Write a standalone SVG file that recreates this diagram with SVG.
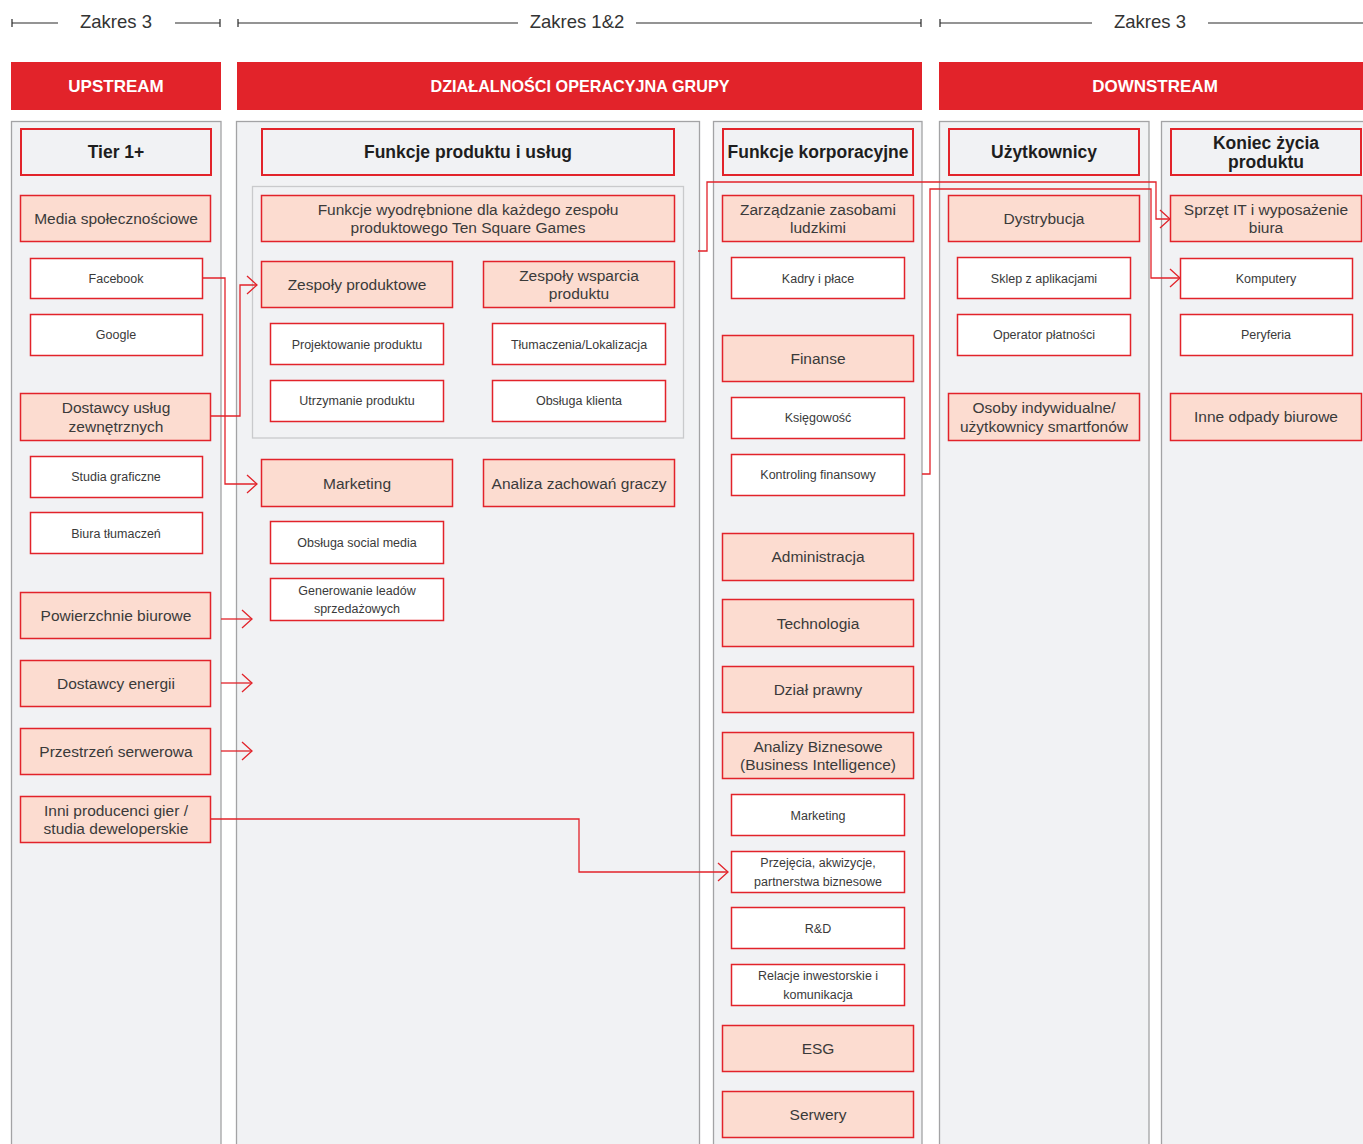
<svg xmlns="http://www.w3.org/2000/svg" width="1363" height="1144" viewBox="0 0 1363 1144">
<defs>
<style>
.bg{fill:#ffffff}
.panel{fill:#f1f2f4;stroke:#a3a3a5;stroke-width:1.3}
.inner{fill:none;stroke:#c9cacc;stroke-width:1.3}
.bar{fill:#e2232a}
.bart{font-family:"Liberation Sans",Arial,sans-serif;font-weight:bold;font-size:17px;fill:#ffffff;text-anchor:middle}
.hdr{fill:#f1f2f4;stroke:#e2232a;stroke-width:2}
.hdrt{font-family:"Liberation Sans",Arial,sans-serif;font-weight:bold;font-size:17.5px;fill:#1e1e1e;text-anchor:middle}
.pk{fill:#fcdcd0;stroke:#e2232a;stroke-width:1.5}
.pkt{font-family:"Liberation Sans",Arial,sans-serif;font-size:15.5px;fill:#3a3a3a;text-anchor:middle}
.wh{fill:#ffffff;stroke:#e2232a;stroke-width:1.5}
.wht{font-family:"Liberation Sans",Arial,sans-serif;font-size:12.5px;fill:#3a3a3a;text-anchor:middle}
.sc{stroke:#2a2a2a;stroke-width:1.2;fill:none}
.sct{font-family:"Liberation Sans",Arial,sans-serif;font-size:18.5px;fill:#333333;text-anchor:middle}
.cn{fill:none;stroke:#e2232a;stroke-width:1.3}
</style>
<marker id="arr" markerWidth="14" markerHeight="22" refX="12" refY="10" orient="auto" markerUnits="userSpaceOnUse">
<path d="M2,1 L12,10 L2,19" fill="none" stroke="#e2232a" stroke-width="1.3"/>
</marker>
</defs>
<rect class="bg" x="0" y="0" width="1363" height="1144"/>

<g id="scope">
<path class="sc" d="M12,23 H58 M12,19 V27 M175,23 H220 M220,19 V27"/>
<text class="sct" x="116" y="28">Zakres 3</text>
<path class="sc" d="M238,23 H518 M238,19 V27 M636,23 H921 M921,19 V27"/>
<text class="sct" x="577" y="28">Zakres 1&amp;2</text>
<path class="sc" d="M940,23 H1092 M940,19 V27 M1208,23 H1363"/>
<text class="sct" x="1150" y="28">Zakres 3</text>
</g>

<g id="bars">
<rect class="bar" x="11" y="62" width="210" height="48"/>
<text class="bart" x="116" y="92">UPSTREAM</text>
<rect class="bar" x="237" y="62" width="685" height="48"/>
<text class="bart" x="580" y="92" textLength="299" lengthAdjust="spacingAndGlyphs">DZIAŁALNOŚCI OPERACYJNA GRUPY</text>
<rect class="bar" x="939" y="62" width="424" height="48"/>
<text class="bart" x="1155" y="92">DOWNSTREAM</text>
</g>

<g id="panels">
<rect class="panel" x="11.5" y="121.5" width="209.5" height="1040"/>
<rect class="panel" x="236.5" y="121.5" width="463" height="1040"/>
<rect class="panel" x="713.5" y="121.5" width="208.5" height="1040"/>
<rect class="panel" x="939.5" y="121.5" width="209.5" height="1040"/>
<rect class="panel" x="1161.5" y="121.5" width="215" height="1040"/>
<rect class="inner" x="252.5" y="186.5" width="431" height="251.5"/>
</g>

<g id="connectors">
<path class="cn" d="M202,278 H225 V484 H257" marker-end="url(#arr)"/>
<path class="cn" d="M211,416 H240 V285 H257" marker-end="url(#arr)"/>
<path class="cn" d="M221,619 H252" marker-end="url(#arr)"/>
<path class="cn" d="M221,683 H252" marker-end="url(#arr)"/>
<path class="cn" d="M221,751 H252" marker-end="url(#arr)"/>
<path class="cn" d="M211,819 H579 V872 H728" marker-end="url(#arr)"/>
<path class="cn" d="M698,251 H707 V182 H1156 V219 H1170" marker-end="url(#arr)"/>
<path class="cn" d="M922,474 H930 V189 H1151 V278 H1180" marker-end="url(#arr)"/>
</g>

<g id="col1">
<g id="n-tier"><rect class="hdr" x="21" y="129" width="190" height="46"/><text class="hdrt" x="116" y="158">Tier 1+</text></g>
<g id="n-media"><rect class="pk" x="20.5" y="195.5" width="190" height="46"/><text class="pkt" x="116" y="224">Media społecznościowe</text></g>
<g id="n-facebook"><rect class="wh" x="30.5" y="258.5" width="172" height="40"/><text class="wht" x="116" y="283">Facebook</text></g>
<g id="n-google"><rect class="wh" x="30.5" y="314.5" width="172" height="41"/><text class="wht" x="116" y="339">Google</text></g>
<g id="n-dostawcy"><rect class="pk" x="20.5" y="393.5" width="190" height="47"/><text class="pkt" x="116" y="413">Dostawcy usług</text><text class="pkt" x="116" y="432">zewnętrznych</text></g>
<g id="n-studia"><rect class="wh" x="30.5" y="456.5" width="172" height="41"/><text class="wht" x="116" y="481">Studia graficzne</text></g>
<g id="n-biura"><rect class="wh" x="30.5" y="512.5" width="172" height="41"/><text class="wht" x="116" y="538">Biura tłumaczeń</text></g>
<g id="n-powierzchnie"><rect class="pk" x="20.5" y="592.5" width="190" height="46"/><text class="pkt" x="116" y="621">Powierzchnie biurowe</text></g>
<g id="n-energia"><rect class="pk" x="20.5" y="660.5" width="190" height="46"/><text class="pkt" x="116" y="689">Dostawcy energii</text></g>
<g id="n-serwerowa"><rect class="pk" x="20.5" y="728.5" width="190" height="46"/><text class="pkt" x="116" y="757">Przestrzeń serwerowa</text></g>
<g id="n-inni"><rect class="pk" x="20.5" y="796.5" width="190" height="46"/><text class="pkt" x="116" y="816">Inni producenci gier /</text><text class="pkt" x="116" y="834">studia deweloperskie</text></g>
</g>

<g id="col2">
<g id="n-funkcje-prod"><rect class="hdr" x="262" y="129" width="412" height="46"/><text class="hdrt" x="468" y="158">Funkcje produktu i usług</text></g>
<g id="n-wyodr"><rect class="pk" x="261.5" y="195.5" width="413" height="46"/><text class="pkt" x="468" y="215">Funkcje wyodrębnione dla każdego zespołu</text><text class="pkt" x="468" y="233">produktowego Ten Square Games</text></g>
<g id="n-zespoly"><rect class="pk" x="261.5" y="261.5" width="191" height="46"/><text class="pkt" x="357" y="290">Zespoły produktowe</text></g>
<g id="n-wsparcie"><rect class="pk" x="483.5" y="261.5" width="191" height="46"/><text class="pkt" x="579" y="281">Zespoły wsparcia</text><text class="pkt" x="579" y="299">produktu</text></g>
<g id="n-projekt"><rect class="wh" x="270.5" y="323.5" width="173" height="41"/><text class="wht" x="357" y="349">Projektowanie produktu</text></g>
<g id="n-utrzym"><rect class="wh" x="270.5" y="380.5" width="173" height="41"/><text class="wht" x="357" y="405">Utrzymanie produktu</text></g>
<g id="n-tlum"><rect class="wh" x="492.5" y="323.5" width="173" height="41"/><text class="wht" x="579" y="349">Tłumaczenia/Lokalizacja</text></g>
<g id="n-obsluga"><rect class="wh" x="492.5" y="380.5" width="173" height="41"/><text class="wht" x="579" y="405">Obsługa klienta</text></g>
<g id="n-marketing"><rect class="pk" x="261.5" y="459.5" width="191" height="47"/><text class="pkt" x="357" y="489">Marketing</text></g>
<g id="n-analiza"><rect class="pk" x="483.5" y="459.5" width="191" height="47"/><text class="pkt" x="579" y="489">Analiza zachowań graczy</text></g>
<g id="n-social"><rect class="wh" x="270.5" y="521.5" width="173" height="42"/><text class="wht" x="357" y="547">Obsługa social media</text></g>
<g id="n-leady"><rect class="wh" x="270.5" y="578.5" width="173" height="42"/><text class="wht" x="357" y="595">Generowanie leadów</text><text class="wht" x="357" y="613">sprzedażowych</text></g>
</g>

<g id="col3">
<g id="n-korp"><rect class="hdr" x="723" y="129" width="190" height="46"/><text class="hdrt" x="818" y="158">Funkcje korporacyjne</text></g>
<g id="n-hr"><rect class="pk" x="722.5" y="195.5" width="191" height="46"/><text class="pkt" x="818" y="215">Zarządzanie zasobami</text><text class="pkt" x="818" y="233">ludzkimi</text></g>
<g id="n-kadry"><rect class="wh" x="731.5" y="257.5" width="173" height="41"/><text class="wht" x="818" y="283">Kadry i płace</text></g>
<g id="n-finanse"><rect class="pk" x="722.5" y="335.5" width="191" height="46"/><text class="pkt" x="818" y="364">Finanse</text></g>
<g id="n-ksieg"><rect class="wh" x="731.5" y="397.5" width="173" height="41"/><text class="wht" x="818" y="422">Księgowość</text></g>
<g id="n-kontrol"><rect class="wh" x="731.5" y="454.5" width="173" height="41"/><text class="wht" x="818" y="479">Kontroling finansowy</text></g>
<g id="n-admin"><rect class="pk" x="722.5" y="533.5" width="191" height="47"/><text class="pkt" x="818" y="562">Administracja</text></g>
<g id="n-tech"><rect class="pk" x="722.5" y="599.5" width="191" height="47"/><text class="pkt" x="818" y="629">Technologia</text></g>
<g id="n-prawny"><rect class="pk" x="722.5" y="666.5" width="191" height="46"/><text class="pkt" x="818" y="695">Dział prawny</text></g>
<g id="n-bi"><rect class="pk" x="722.5" y="732.5" width="191" height="46"/><text class="pkt" x="818" y="752">Analizy Biznesowe</text><text class="pkt" x="818" y="770">(Business Intelligence)</text></g>
<g id="n-marketing2"><rect class="wh" x="731.5" y="794.5" width="173" height="41"/><text class="wht" x="818" y="820">Marketing</text></g>
<g id="n-przejecia"><rect class="wh" x="731.5" y="851.5" width="173" height="41"/><text class="wht" x="818" y="867">Przejęcia, akwizycje,</text><text class="wht" x="818" y="886">partnerstwa biznesowe</text></g>
<g id="n-rd"><rect class="wh" x="731.5" y="907.5" width="173" height="41"/><text class="wht" x="818" y="933">R&amp;D</text></g>
<g id="n-ir"><rect class="wh" x="731.5" y="964.5" width="173" height="41"/><text class="wht" x="818" y="980">Relacje inwestorskie i</text><text class="wht" x="818" y="999">komunikacja</text></g>
<g id="n-esg"><rect class="pk" x="722.5" y="1025.5" width="191" height="46"/><text class="pkt" x="818" y="1054">ESG</text></g>
<g id="n-serwery"><rect class="pk" x="722.5" y="1091.5" width="191" height="46"/><text class="pkt" x="818" y="1120">Serwery</text></g>
</g>

<g id="col4">
<g id="n-uzytk"><rect class="hdr" x="949" y="129" width="190" height="46"/><text class="hdrt" x="1044" y="158">Użytkownicy</text></g>
<g id="n-dystr"><rect class="pk" x="948.5" y="195.5" width="191" height="46"/><text class="pkt" x="1044" y="224">Dystrybucja</text></g>
<g id="n-sklep"><rect class="wh" x="957.5" y="257.5" width="173" height="41"/><text class="wht" x="1044" y="283">Sklep z aplikacjami</text></g>
<g id="n-operator"><rect class="wh" x="957.5" y="314.5" width="173" height="41"/><text class="wht" x="1044" y="339">Operator płatności</text></g>
<g id="n-osoby"><rect class="pk" x="948.5" y="393.5" width="191" height="47"/><text class="pkt" x="1044" y="413">Osoby indywidualne/</text><text class="pkt" x="1044" y="432">użytkownicy smartfonów</text></g>
</g>

<g id="col5">
<g id="n-koniec"><rect class="hdr" x="1171" y="129" width="190" height="46"/><text class="hdrt" x="1266" y="149">Koniec życia</text><text class="hdrt" x="1266" y="168">produktu</text></g>
<g id="n-sprzet"><rect class="pk" x="1170.5" y="195.5" width="191" height="46"/><text class="pkt" x="1266" y="215">Sprzęt IT i wyposażenie</text><text class="pkt" x="1266" y="233">biura</text></g>
<g id="n-komp"><rect class="wh" x="1180.5" y="258.5" width="172" height="40"/><text class="wht" x="1266" y="283">Komputery</text></g>
<g id="n-peryf"><rect class="wh" x="1180.5" y="314.5" width="172" height="41"/><text class="wht" x="1266" y="339">Peryferia</text></g>
<g id="n-odpady"><rect class="pk" x="1170.5" y="393.5" width="191" height="47"/><text class="pkt" x="1266" y="422">Inne odpady biurowe</text></g>
</g>
</svg>
